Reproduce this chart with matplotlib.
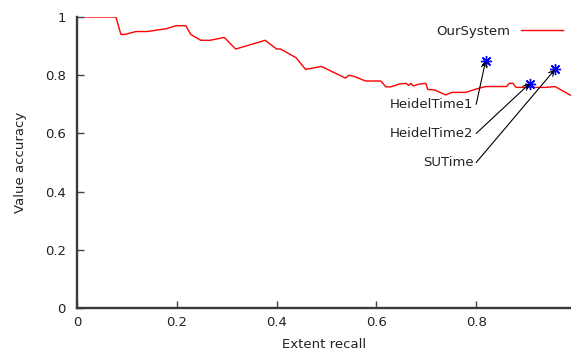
import matplotlib
matplotlib.use("Agg")
import matplotlib.pyplot as plt
from matplotlib.ticker import FixedLocator, FuncFormatter

# OurSystem curve (extent recall vs value accuracy)
recall = [0.016, 0.078, 0.088, 0.096, 0.118, 0.140, 0.180, 0.198, 0.218, 0.228,
          0.248, 0.267, 0.295, 0.318, 0.338, 0.377, 0.400, 0.408, 0.439, 0.458,
          0.490, 0.538, 0.545, 0.557, 0.578, 0.609, 0.619, 0.629, 0.647, 0.659,
          0.665, 0.669, 0.674, 0.685, 0.699, 0.703, 0.717, 0.739, 0.751, 0.779,
          0.801, 0.819, 0.861, 0.866, 0.874, 0.878, 0.881, 0.938, 0.958, 0.990]
accuracy = [1.00, 1.00, 0.94, 0.94, 0.95, 0.95, 0.96, 0.97, 0.97, 0.94,
            0.92, 0.92, 0.93, 0.89, 0.90, 0.92, 0.89, 0.89, 0.86, 0.82,
            0.83, 0.79, 0.80, 0.795, 0.78, 0.78, 0.76, 0.76, 0.77, 0.772,
            0.765, 0.772, 0.763, 0.769, 0.772, 0.751, 0.749, 0.732, 0.741, 0.741,
            0.753, 0.761, 0.761, 0.772, 0.772, 0.761, 0.758, 0.758, 0.761, 0.73]

systems = ["HeidelTime1", "HeidelTime2", "SUTime"]
sys_recall = [0.819, 0.907, 0.958]
sys_accuracy = [0.85, 0.771, 0.82]
label_y = [0.7, 0.6, 0.5]

xticks = [0, 0.2, 0.4, 0.6, 0.8]
yticks = [0, 0.2, 0.4, 0.6, 0.8, 1.0]

FS = 9.5
TXT = "#222222"

fig = plt.figure(figsize=(5.71, 3.52), dpi=100)
ax = fig.add_axes([77/571, 44/352, 1 - 77/571, (308-17)/352])

ax.plot(recall, accuracy, color="#ff0000", lw=1.0, label="OurSystem")
ax.plot(sys_recall, sys_accuracy, linestyle="none", marker=(8, 2, 0),
        markersize=8, markeredgecolor="#0000ff", markeredgewidth=1.0, color="#0000ff",
        zorder=3)

for name, sx, sy, ly in zip(systems, sys_recall, sys_accuracy, label_y):
    ax.annotate("", xy=(sx, sy), xytext=(0.8, ly),
                arrowprops=dict(arrowstyle="->", color="black", lw=0.8,
                                shrinkA=0, shrinkB=0, mutation_scale=10), zorder=4)
    ax.text(0.795, ly, name, ha="right", va="center", fontsize=FS, color=TXT)

ax.set_xlim(0, 0.99)
ax.set_ylim(0, 1)
ax.xaxis.set_major_locator(FixedLocator(xticks))
ax.yaxis.set_major_locator(FixedLocator(yticks))
fmt = FuncFormatter(lambda v, p: "%g" % v)
ax.xaxis.set_major_formatter(fmt)
ax.yaxis.set_major_formatter(fmt)
ax.tick_params(direction="in", length=5, width=1, color="#444444", labelsize=FS,
               labelcolor=TXT)
ax.tick_params(axis="x", pad=6)
ax.tick_params(axis="y", pad=8)
for s in ["top", "right"]:
    ax.spines[s].set_visible(False)
for s in ["left", "bottom"]:
    ax.spines[s].set_linewidth(1.7)
    ax.spines[s].set_color("#3a3a3a")

ax.set_xlabel("Extent recall", fontsize=FS, color=TXT, labelpad=6)
ax.set_ylabel("Value accuracy", fontsize=FS, color=TXT, labelpad=13)

leg = ax.legend(loc="upper right", bbox_to_anchor=(1.003, 1.005), frameon=False,
                fontsize=FS, markerfirst=False, handlelength=3.2, handletextpad=0.8,
                borderaxespad=0.3)
for t in leg.get_texts():
    t.set_color(TXT)

fig.savefig("out.png", dpi=100)
